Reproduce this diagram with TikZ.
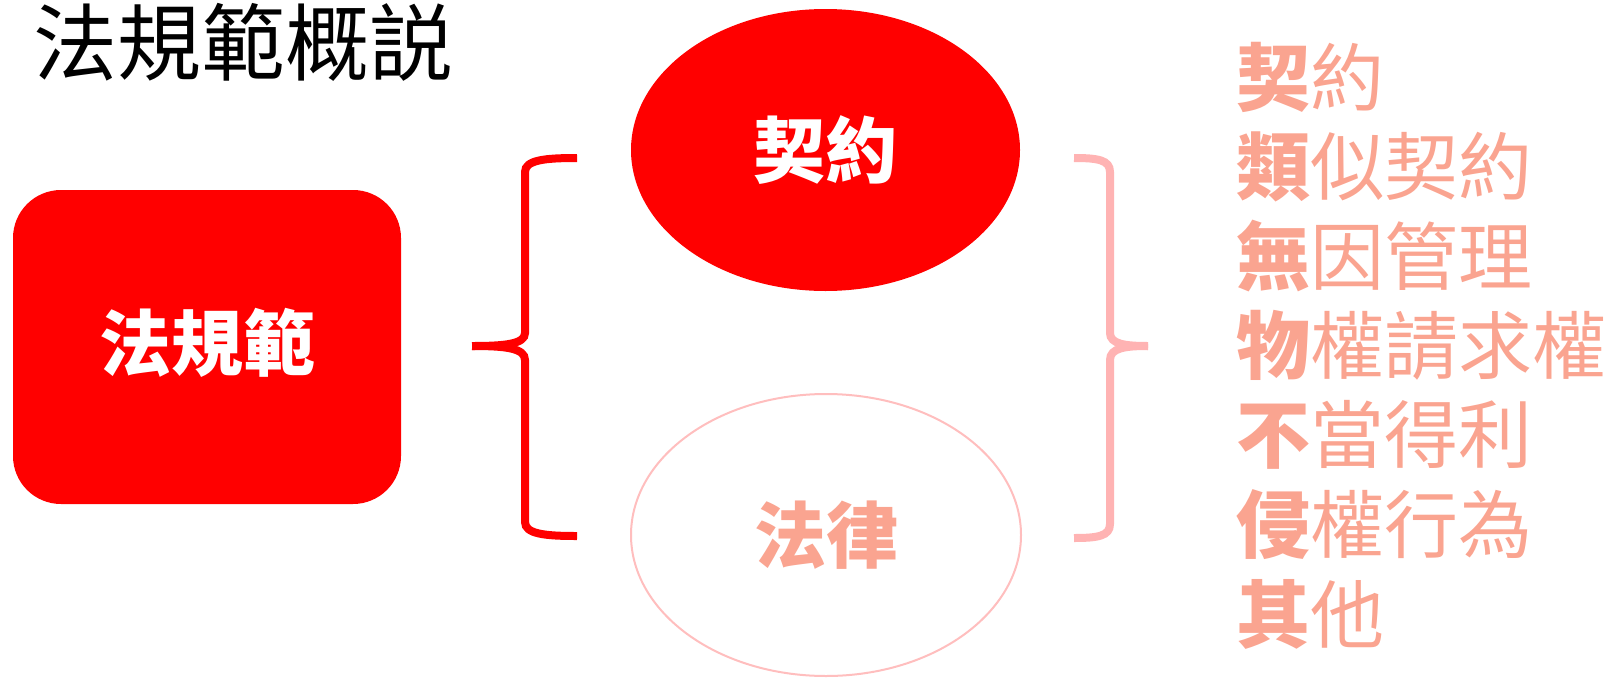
\documentclass[tikz,border=0pt]{standalone}
\usepackage{fontspec}
\usepackage{tikz}
\newfontfamily\cjk{Noto Sans CJK TC}
\definecolor{lawred}{RGB}{255,0,0}
\definecolor{salmon}{RGB}{250,164,144}
\definecolor{lightpink}{RGB}{255,179,179}
\definecolor{rimpink}{RGB}{255,190,190}
\tikzset{
  bigtext/.style={font=\cjk\fontsize{74}{89}\selectfont, inner sep=0pt},
  boldtext/.style={bigtext, font=\cjk\bfseries\fontsize{72}{89}\selectfont},
  listitem/.style={bigtext, text=salmon, anchor=west},
}

\begin{document}
\begin{tikzpicture}[x=1pt,y=-1pt]
   \useasboundingbox (0,0) rectangle (1612,678);

   % title
   \node[font=\cjk\fontsize{84}{96}\selectfont, inner sep=0pt, anchor=west] (title) at (33,42) {法規範概説};

   % main box
   \fill[lawred, rounded corners=48pt] (13,190) rectangle (401,504);
   \node[boldtext, text=white] (norm) at (207,343) {法規範};

   % the two ellipses
   \fill[lawred] (825.5,150) ellipse [x radius=194.5, y radius=141];
   \node[boldtext, text=white] (contract) at (825.5,150) {契約};

   \draw[rimpink, line width=2pt, fill=white] (826,535) ellipse [x radius=195, y radius=141];
   \node[boldtext, text=salmon] (law) at (826,535) {法律};

   % braces
   \begin{scope}[line width=8pt, lawred]
     \draw (577,158) .. controls (545,158) and (525,160) .. (525,172) -- (525,333)
           .. controls (525,344) and (505,346) .. (472,346);
     \draw (472,346) .. controls (505,346) and (525,348) .. (525,360) -- (525,522)
           .. controls (525,534) and (545,536) .. (577,536);
   \end{scope}

   \begin{scope}[line width=8pt, lightpink]
     \draw (1074,158) .. controls (1098,158) and (1110,160) .. (1110,172) -- (1110,333)
           .. controls (1110,344) and (1125,346) .. (1148,346);
     \draw (1148,346) .. controls (1125,346) and (1110,348) .. (1110,360) -- (1110,524)
           .. controls (1110,536) and (1098,538) .. (1074,538);
   \end{scope}

   % list on the right
   \foreach \first/\rest [count=\i] in {契/約, 類/似契約, 無/因管理, 物/權請求權, 不/當得利, 侵/權行為, 其/他}
     \node[listitem] (item\i) at (1236, {77+89.5*(\i-1)}) {{\bfseries\first}\rest};

\end{tikzpicture}
\end{document}
